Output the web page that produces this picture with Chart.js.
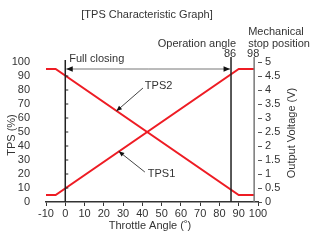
<!DOCTYPE html>
<html>
<head>
<meta charset="utf-8">
<script src="https://cdn.jsdelivr.net/npm/chart.js@4"></script>
<style>
  body { margin: 0; background: #fff; }
  #wrap { width: 319px; height: 240px; }
</style>
</head>
<body>
<div id="wrap"><canvas id="myChart" width="319" height="240"></canvas></div>
<script>
// break points of the two sensor lines (throttle angle, %)
let angles = [-10, -5, 90, 98];
let tps1 = [5, 5, 95, 95];
let tps2 = [95, 95, 5, 5];

let xTicks = [-10, 0, 10, 20, 30, 40, 50, 60, 70, 80, 90, 100];
let fullClosing = 0;
let operationAngle = 86;
let stopPosition = 98;

let red = '#ee1c24';
let ink = '#333333';
let font = "'Liberation Sans', Arial, sans-serif";

function toPoints(ys) {
    return angles.map((a, i) => ({ x: a, y: ys[i] }));
}

function arrow(ctx, x1, y1, x2, y2, color, head) {
    ctx.strokeStyle = color;
    ctx.lineWidth = 1;
    ctx.beginPath();
    ctx.moveTo(x1, y1);
    ctx.lineTo(x2, y2);
    ctx.stroke();
    let ang = Math.atan2(y2 - y1, x2 - x1);
    ctx.fillStyle = '#111';
    ctx.beginPath();
    ctx.moveTo(x2, y2);
    ctx.lineTo(x2 - head * Math.cos(ang - 0.4), y2 - head * Math.sin(ang - 0.4));
    ctx.lineTo(x2 - head * Math.cos(ang + 0.4), y2 - head * Math.sin(ang + 0.4));
    ctx.closePath();
    ctx.fill();
}

let extras = {
    id: 'extras',
    afterDraw(chart) {
        let ctx = chart.ctx;
        let xs = chart.scales.x;
        let ys = chart.scales.y;
        let area = chart.chartArea;
        let x0 = xs.getPixelForValue(fullClosing);
        let x86 = xs.getPixelForValue(operationAngle);
        let x98 = xs.getPixelForValue(stopPosition);
        let top = ys.getPixelForValue(100);
        ctx.save();

        // vertical marker lines
        ctx.lineWidth = 1.5;
        ctx.strokeStyle = '#222';
        ctx.beginPath();
        ctx.moveTo(x0, top - 2);
        ctx.lineTo(x0, area.bottom);
        ctx.moveTo(x86, top - 5);
        ctx.lineTo(x86, area.bottom);
        ctx.stroke();
        ctx.strokeStyle = '#777';
        ctx.beginPath();
        ctx.moveTo(x98, top - 5);
        ctx.lineTo(x98, area.bottom);
        ctx.stroke();

        // small ticks on the 0 line
        ctx.strokeStyle = '#222';
        ctx.lineWidth = 1;
        ctx.beginPath();
        for (let v = 10; v < 100; v += 10) {
            let y = ys.getPixelForValue(v);
            ctx.moveTo(x0, y);
            ctx.lineTo(x0 + 3, y);
        }
        ctx.stroke();

        // full closing <-> operation angle arrow
        let ya = ys.getPixelForValue(95);
        let xm = (x0 + x86) / 2;
        arrow(ctx, xm, ya, x0 + 1, ya, '#777', 7);
        arrow(ctx, xm, ya, x86 - 1, ya, '#777', 7);

        // callouts
        let p = (x, y) => [xs.getPixelForValue(x), ys.getPixelForValue(y)];
        let a = p(40.3, 81.4), b = p(26, 95 - 31 * 90 / 95);
        arrow(ctx, a[0], a[1], b[0] + 1, b[1] + 1, '#444', 6);
        a = p(41.3, 21.4); b = p(27.2, 5 + 32.2 * 90 / 95);
        arrow(ctx, a[0], a[1], b[0] + 1, b[1] - 1, '#444', 6);

        ctx.fillStyle = ink;
        ctx.font = '11px ' + font;
        ctx.textBaseline = 'middle';
        ctx.textAlign = 'left';
        let t = p(41.3, 82.9);
        ctx.fillText('TPS2', t[0], t[1]);
        t = p(42.8, 20);
        ctx.fillText('TPS1', t[0], t[1]);
        ctx.fillText('Full closing', x0 + 4, top - 3);
        ctx.fillText('Mechanical', x98 - 6, top - 30);
        ctx.fillText('stop position', x98 - 6, top - 18);
        ctx.textAlign = 'right';
        ctx.fillText('Operation angle', x86 + 5, top - 18);
        ctx.textAlign = 'center';
        ctx.fillText('86', x86 - 1, top - 8);
        ctx.fillText('98', x98 - 1, top - 8);
        ctx.fillText('[TPS Characteristic Graph]', 147, 15);
        ctx.fillText('Throttle Angle (\u02da)', (area.left + area.right) / 2 - 2, 226);

        ctx.translate(12, 135);
        ctx.rotate(-Math.PI / 2);
        ctx.fillText('TPS (%)', 0, 0);
        ctx.rotate(Math.PI / 2);
        ctx.translate(280, -2);
        ctx.rotate(-Math.PI / 2);
        ctx.fillText('Output Voltage (V)', 0, 0);
        ctx.restore();
    }
};

let chart1 = new Chart(document.getElementById('myChart').getContext('2d'), {
    type: 'line',
    data: {
        datasets: [{
            label: 'TPS1',
            data: toPoints(tps1),
            borderColor: red,
            borderWidth: 2,
            pointRadius: 0,
            fill: false
        }, {
            label: 'TPS2',
            data: toPoints(tps2),
            borderColor: red,
            borderWidth: 2,
            pointRadius: 0,
            fill: false
        }]
    },
    options: {
        responsive: false,
        animation: false,
        layout: { padding: { top: 62 } },
        plugins: {
            legend: { display: false },
            title: { display: false },
            tooltip: { enabled: false }
        },
        scales: {
            x: {
                type: 'linear',
                min: -10,
                max: 100,
                afterFit: s => { s.height = 38; },
                afterBuildTicks: s => { s.ticks = xTicks.map(v => ({ value: v })); },
                grid: { drawOnChartArea: false, tickLength: 4, color: ink },
                border: { color: ink, width: 1.5 },
                ticks: { color: ink, font: { size: 11, family: font }, padding: 1, maxRotation: 0, autoSkip: false }
            },
            y: {
                min: 0,
                max: 100,
                afterFit: s => { s.width = 46; },
                grid: { display: false },
                border: { display: false },
                ticks: { stepSize: 10, color: ink, font: { size: 11, family: font }, padding: 8, autoSkip: false }
            },
            y2: {
                position: 'right',
                min: 0,
                max: 5,
                afterFit: s => { s.width = 61; },
                grid: { drawOnChartArea: false, tickLength: 4, color: '#555' },
                border: { display: false },
                ticks: {
                    stepSize: 0.5, color: ink, font: { size: 11, family: font }, padding: 3, autoSkip: false,
                    callback: v => String(v)
                }
            }
        }
    },
    plugins: [extras]
});
</script>
</body>
</html>
